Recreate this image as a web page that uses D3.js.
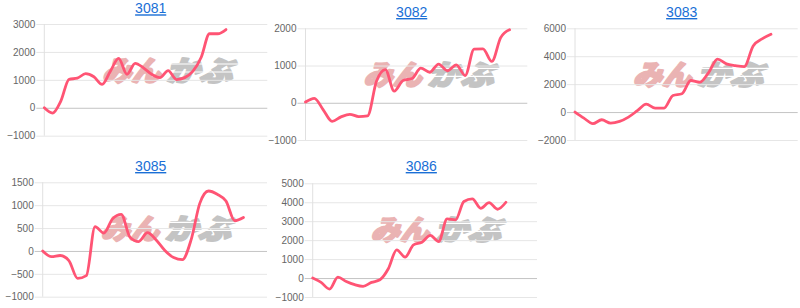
<!DOCTYPE html>
<html><head><meta charset="utf-8">
<script src="https://cdn.jsdelivr.net/npm/d3@7"></script>
<style>
html,body{margin:0;padding:0;background:#fff;}
svg{display:block;}
</style></head>
<body>
<svg id="c" width="800" height="308"></svg>
<script>
// ---- data ----
const codes = ["3081", "3082", "3083", "3085", "3086"];
const values3081 = [0,-190,240,1020,1060,1220,1110,840,1310,1770,1200,1590,1430,1200,1080,1330,1010,1080,1310,1810,2650,2650,2800];
const values3082 = [20,120,-190,-500,-380,-310,-370,-350,580,890,310,600,650,930,820,1040,860,1020,730,1440,1450,1110,1750,1960];
const values3083 = [0,-430,-830,-550,-790,-670,-360,100,570,290,290,1190,1310,2260,2140,2830,3790,3450,3330,3260,4740,5240,5570];
const values3085 = [0,-125,-100,-210,-600,-540,530,390,700,800,300,205,400,240,10,-145,-190,240,1040,1310,1240,1090,660,730];
const values3086 = [0,-230,-580,50,-180,-350,-440,-230,-90,490,1490,1100,1750,1890,2250,1930,3120,3070,4040,4180,3680,3980,3630,4000];
const ticks3081 = [-1000,0,1000,2000,3000];
const ticks3082 = [-1000,0,1000,2000];
const ticks3083 = [-2000,0,2000,4000,6000];
const ticks3085 = [-1000,-500,0,500,1000,1500];
const ticks3086 = [-1000,0,1000,2000,3000,4000,5000];
const seriesValues = [values3081, values3082, values3083, values3085, values3086];
const tickLists = [ticks3081, ticks3082, ticks3083, ticks3085, ticks3086];
const slotCounts = [27, 25, 25, 25.7, 26.7];

// ---- layout ----
const layout = [
  {l:44.3, r:267.3, t:24,    b:135.7, tx:150.7, ty:13.3},
  {l:305.5,r:527.3, t:28.3,  b:140,   tx:411.7, ty:17},
  {l:575,  r:797.7, t:28.3,  b:140,   tx:681.7, ty:17},
  {l:42.7, r:267,   t:182.3, b:296.7, tx:150.7, ty:171},
  {l:312.7,r:537,   t:183.3, b:297,   tx:421.3, ty:171}
];
const lineColor = "#ff5474";
const svg = d3.select("#c");

codes.forEach((code, i) => {
  const L = layout[i];
  const vals = seriesValues[i];
  const ticks = tickLists[i];
  const g = svg.append("g");
  const x = d3.scaleLinear().domain([0, slotCounts[i]]).range([L.l, L.r]);
  const y = d3.scaleLinear().domain([ticks[0], ticks[ticks.length-1]]).range([L.b, L.t]);

  // title
  g.append("text").attr("x", L.tx).attr("y", L.ty)
    .attr("text-anchor", "middle")
    .attr("font-family", "Liberation Sans, Arial, sans-serif")
    .attr("font-size", 14).attr("fill", "#1a6fd6")
    .attr("text-decoration", "underline")
    .text(code);

  // watermark
  const wm = g.append("g").attr("transform", `translate(${L.l+52},${L.t+57}) skewX(-16)`);
  wm.append("text").attr("x", 6).attr("y", 0)
    .attr("font-family", "Noto Sans CJK JP").attr("font-weight", 900)
    .attr("font-size", 28).attr("fill", "#eab3b3")
    .attr("stroke", "#eab3b3").attr("stroke-width", 2.2).attr("stroke-linejoin", "round")
    .attr("textLength", 58).attr("lengthAdjust", "spacingAndGlyphs")
    .text("みん");
  wm.append("text").attr("x", 70).attr("y", 0)
    .attr("font-family", "Noto Sans CJK JP").attr("font-weight", 900)
    .attr("font-size", 28).attr("fill", "#c4c4c4")
    .attr("stroke", "#c4c4c4").attr("stroke-width", 2.2).attr("stroke-linejoin", "round")
    .attr("textLength", 66).attr("lengthAdjust", "spacingAndGlyphs")
    .text("かぶ");
  [-17, -9].forEach(dy => {
    wm.append("line").attr("x1", 68).attr("x2", 140).attr("y1", dy).attr("y2", dy)
      .attr("stroke", "#fff").attr("stroke-width", 1.2);
  });

  // y axis with gridlines
  const axis = d3.axisLeft(y).tickValues(ticks).tickSize(-(L.r - L.l)).tickPadding(0).tickFormat(d3.format("d"));
  const ag = g.append("g").attr("transform", `translate(${L.l},0)`).call(axis);
  ag.select(".domain").remove();
  ag.selectAll(".tick line")
    .attr("x1", -8)
    .attr("stroke", d => d === 0 ? "#c4c4c4" : "#e6e6e6")
    .attr("stroke-width", 1);
  ag.selectAll(".tick text")
    .attr("x", -9)
    .attr("font-family", "Liberation Sans, Arial, sans-serif")
    .attr("font-size", 10).attr("fill", "#666");
  g.append("line").attr("x1", L.l).attr("x2", L.l).attr("y1", L.t).attr("y2", L.b)
    .attr("stroke", "#e0e0e0");

  // line
  const line = d3.line().x((d, j) => x(j)).y(d => y(d)).curve(d3.curveMonotoneX);
  g.append("path").datum(vals).attr("d", line)
    .attr("fill", "none").attr("stroke", lineColor).attr("stroke-width", 2.8)
    .attr("stroke-linejoin", "round").attr("stroke-linecap", "round");
});
</script>
</body></html>
